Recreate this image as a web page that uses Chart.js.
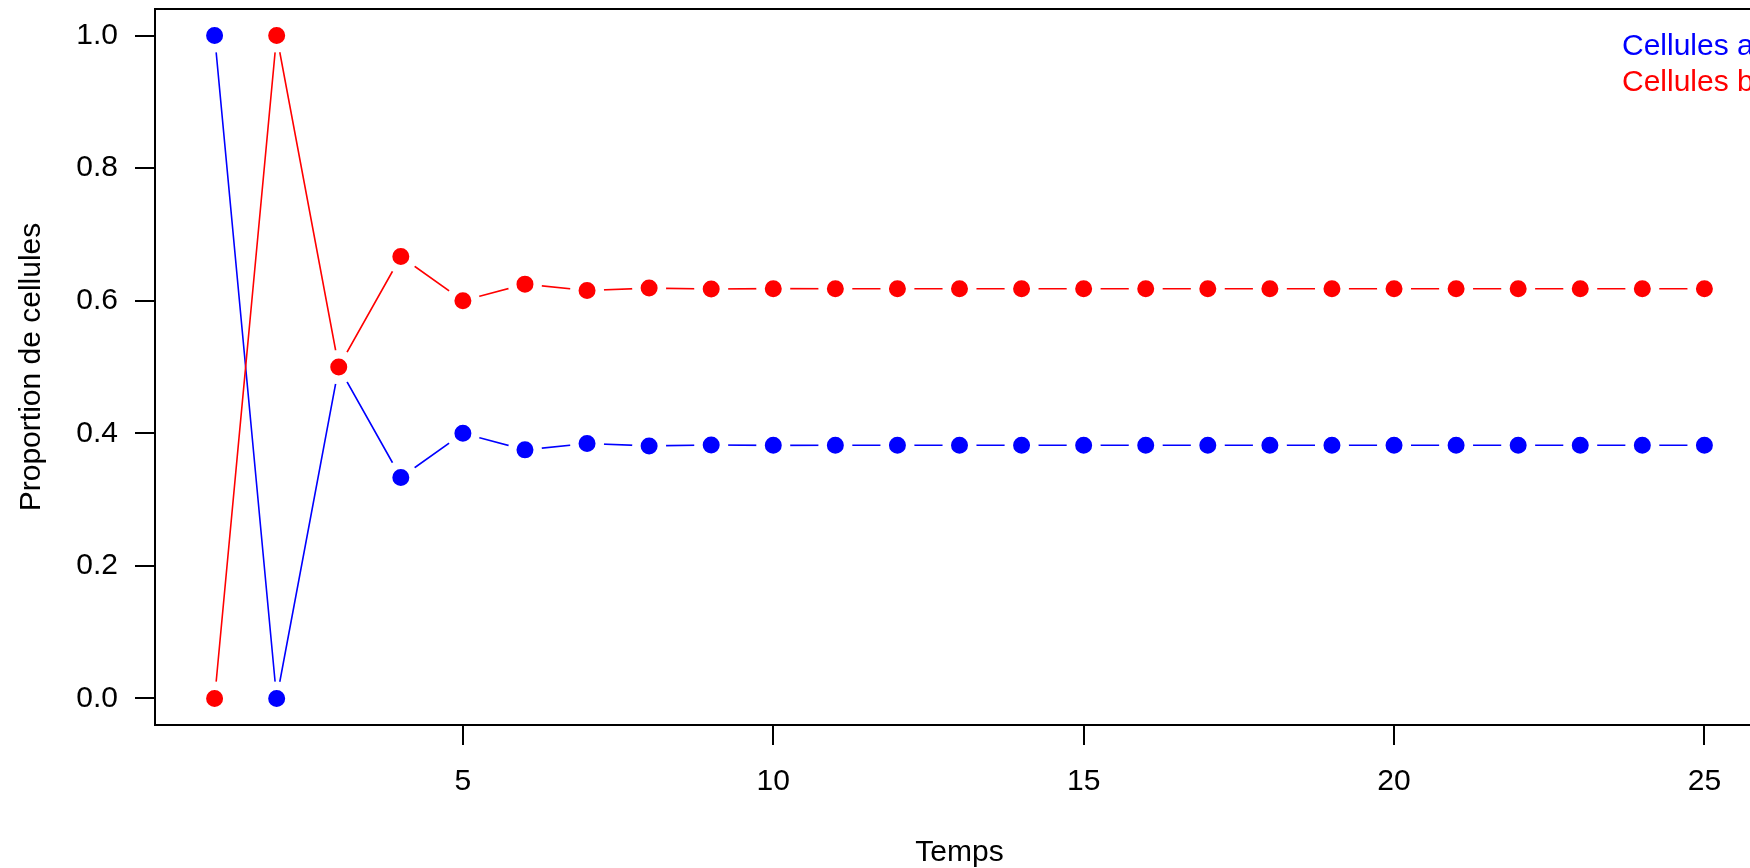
<!DOCTYPE html>
<html>
<head>
<meta charset="utf-8">
<script src="https://cdn.jsdelivr.net/npm/chart.js@4/dist/chart.umd.min.js"></script>
<style>
  html, body { margin: 0; padding: 0; background: #fff; overflow: hidden; }
  #wrap { width: 1764px; height: 868px; }
</style>
</head>
<body>
<div id="wrap"><canvas id="cellChart" width="1764" height="868"></canvas></div>
<script>
// temps (generations)
const temps = [1, 2, 3, 4, 5, 6, 7, 8, 9, 10, 11, 12, 13, 14, 15, 16, 17, 18, 19, 20, 21, 22, 23, 24, 25];

// proportion de cellules a (bleu) et b (rouge)
const cellulesA = [1, 0, 0.5, 0.3333, 0.4, 0.375, 0.3846, 0.381, 0.3824, 0.3818, 0.382, 0.3819, 0.382,
  0.382, 0.382, 0.382, 0.382, 0.382, 0.382, 0.382, 0.382, 0.382, 0.382, 0.382, 0.382];
const cellulesB = [0, 1, 0.5, 0.6667, 0.6, 0.625, 0.6154, 0.619, 0.6176, 0.6182, 0.618, 0.6181, 0.618,
  0.618, 0.618, 0.618, 0.618, 0.618, 0.618, 0.618, 0.618, 0.618, 0.618, 0.618, 0.618];

const xTicks = [5, 10, 15, 20, 25];
const yTicks = [0, 0.2, 0.4, 0.6, 0.8, 1.0];
const legendLabels = ['Cellules a', 'Cellules b'];

const FONT = 'Liberation Sans, Arial, Helvetica, sans-serif';
const FSIZE = 30;

// boite autour de la zone de tracé + légende (style R)
const boxPlugin = {
  id: 'rBox',
  beforeDatasetsDraw(chart) {
    const a = chart.chartArea;
    const ctx = chart.ctx;
    ctx.save();
    ctx.strokeStyle = '#000';
    ctx.lineWidth = 2;
    ctx.strokeRect(a.left, a.top, a.right - a.left, a.bottom - a.top);
    ctx.restore();
  },
  afterDraw(chart) {
    const ctx = chart.ctx;
    const a = chart.chartArea;
    ctx.save();
    ctx.font = FSIZE + 'px ' + FONT;
    ctx.textAlign = 'left';
    ctx.textBaseline = 'middle';
    ctx.fillStyle = '#0000ff';
    ctx.fillText(legendLabels[0], a.right - 142, 47);
    ctx.fillStyle = '#ff0000';
    ctx.fillText(legendLabels[1], a.right - 142, 83);
    ctx.restore();
  }
};

function noPadding(scale) {
  scale.paddingLeft = 0;
  scale.paddingRight = 0;
  scale.paddingTop = 0;
  scale.paddingBottom = 0;
}

function serie(values, color, order) {
  return {
    data: temps.map((t, i) => ({ x: t, y: values[i] })),
    borderColor: color,
    borderWidth: 1.6,
    backgroundColor: color,
    pointBackgroundColor: color,
    pointBorderColor: '#ffffff',
    pointBorderWidth: 8.5,
    pointRadius: 12.75,
    pointHoverRadius: 12.75,
    tension: 0,
    fill: false,
    clip: false,
    order: order
  };
}

const ctx = document.getElementById('cellChart').getContext('2d');
new Chart(ctx, {
  type: 'line',
  data: {
    datasets: [
      serie(cellulesA, '#0000ff', 2),
      serie(cellulesB, '#ff0000', 1)
    ]
  },
  options: {
    responsive: false,
    animation: false,
    layout: { autoPadding: false, padding: { left: 0, right: 0, top: 9, bottom: 0 } },
    plugins: { legend: { display: false }, tooltip: { enabled: false } },
    scales: {
      x: {
        type: 'linear',
        min: 0.04,
        max: 25.96,
        afterBuildTicks(scale) { scale.ticks = xTicks.map(v => ({ value: v })); },
        afterFit(scale) { scale.height = 868 - 725; noPadding(scale); },
        grid: { drawOnChartArea: false, drawTicks: true, tickLength: 20, color: '#000', lineWidth: 2 },
        border: { display: false },
        ticks: { color: '#000', font: { family: FONT, size: FSIZE }, padding: 19, maxRotation: 0 },
        title: { display: true, text: 'Temps', color: '#000', font: { family: FONT, size: FSIZE }, padding: { top: 0, bottom: -3 } }
      },
      y: {
        type: 'linear',
        min: -0.04,
        max: 1.04,
        afterBuildTicks(scale) { scale.ticks = yTicks.map(v => ({ value: v })); },
        afterFit(scale) { scale.width = 155; noPadding(scale); },
        grid: { drawOnChartArea: false, drawTicks: true, tickLength: 20, color: '#000', lineWidth: 2 },
        border: { display: false },
        ticks: { color: '#000', font: { family: FONT, size: FSIZE }, padding: 17, callback: v => v.toFixed(1) },
        title: { display: true, text: 'Proportion de cellules', color: '#000', font: { family: FONT, size: FSIZE }, padding: { top: 14, bottom: 0 } }
      }
    }
  },
  plugins: [boxPlugin]
});
</script>
</body>
</html>
